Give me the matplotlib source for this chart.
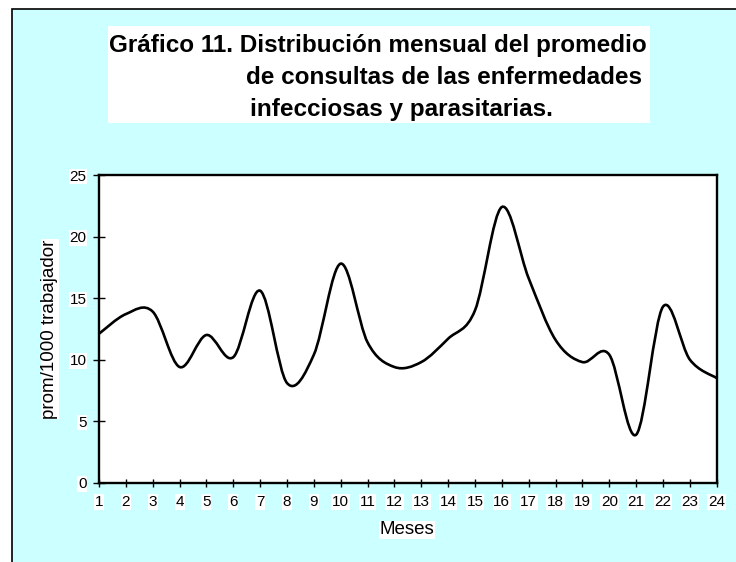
import numpy as np
import matplotlib
matplotlib.use('Agg')
import matplotlib.pyplot as plt
from matplotlib.path import Path
from matplotlib.patches import PathPatch, Rectangle

plt.rcParams['font.family'] = ['Liberation Sans', 'DejaVu Sans']

# monthly average of consultations (per 1000 workers)
meses = list(range(1, 25))
promedio = [12.1, 13.7, 13.9, 9.4, 12.0, 10.2, 15.6, 8.1, 10.4, 17.8, 11.4, 9.4,
            9.8, 11.7, 14.0, 22.4, 16.6, 11.6, 9.8, 10.4, 3.9, 14.3, 10.0, 8.5]
yticks = [0, 5, 10, 15, 20, 25]
title_lines = ['Gráfico 11. Distribución mensual del promedio',
               'de consultas de las enfermedades',
               'infecciosas y parasitarias.']

W, H = 736, 562
fig = plt.figure(figsize=(W/100, H/100), dpi=100)
fig.patch.set_facecolor('white')

# cyan chart area with black frame
fig.patches.append(Rectangle((12/W, -0.01), 1.0, 1 - 9/H + 0.01, transform=fig.transFigure,
                             facecolor='#CCFFFF', edgecolor='black', lw=1.2, zorder=-2))
# white box behind the title
fig.patches.append(Rectangle((108/W, 1 - 123/H), (650-108)/W, (123-26)/H, transform=fig.transFigure,
                             facecolor='white', edgecolor='none', zorder=-1))
xs = [109, 246, 250]
bases = [52, 84, 116]
for t, x0, yb in zip(title_lines, xs, bases):
    fig.text(x0/W, 1 - yb/H, t, fontsize=17.5, fontweight='bold', ha='left', va='baseline', zorder=2)

ax = fig.add_axes([99/W, (H-482.7)/H, (716.7-99)/W, 307.7/H])
ax.set_zorder(3)
ax.set_facecolor('white')

# smoothed line (bezier through every point, like the spreadsheet "smoothed line")
x = np.array(meses, dtype=float)
y = np.array(promedio, dtype=float)
n = len(x)
verts = [(x[0], y[0])]
codes = [Path.MOVETO]
for i in range(n - 1):
    xp, yp = (x[i-1], y[i-1]) if i > 0 else (x[i], y[i])
    xn, yn = (x[i+2], y[i+2]) if i + 2 < n else (x[i+1], y[i+1])
    c1 = (x[i] + (x[i+1] - xp)/6, y[i] + (y[i+1] - yp)/6)
    c2 = (x[i+1] - (xn - x[i])/6, y[i+1] - (yn - y[i])/6)
    verts += [c1, c2, (x[i+1], y[i+1])]
    codes += [Path.CURVE4]*3
ax.add_patch(PathPatch(Path(verts, codes), facecolor='none', edgecolor='black', lw=1.9,
                       capstyle='round', joinstyle='round'))

ax.set_xlim(1, 24)
ax.set_ylim(0, 25)
ax.set_xticks(meses)
ax.set_yticks(yticks)
for s in ax.spines.values():
    s.set_linewidth(1.7)
ax.tick_params(axis='x', direction='inout', length=6, width=1, labelsize=11, pad=6)
ax.tick_params(axis='y', direction='inout', length=8, width=1, labelsize=11, pad=5)
for lbl in ax.get_xticklabels() + ax.get_yticklabels():
    lbl.set_bbox(dict(facecolor='white', edgecolor='none', pad=0.5))

fig.text(50/W, 1 - 329/H, 'prom/1000 trabajador', rotation=90, fontsize=13.5, ha='center', va='center',
         bbox=dict(facecolor='white', edgecolor='none', pad=0.5))
fig.text(407/W, 1 - 530/H, 'Meses', fontsize=13.5, ha='center', va='center',
         bbox=dict(facecolor='white', edgecolor='none', pad=0.5))

fig.savefig('out.png', dpi=100)
